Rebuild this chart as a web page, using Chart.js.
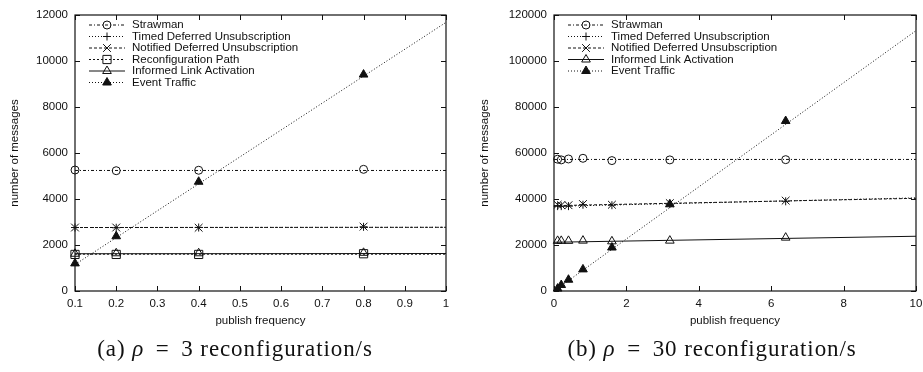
<!DOCTYPE html>
<html>
<head>
<meta charset="utf-8">
<script src="https://cdn.jsdelivr.net/npm/chart.js@4.4.0/dist/chart.umd.min.js"></script>
<style>
  body { margin: 0; background: #fff; width: 923px; height: 372px; overflow: hidden; position: relative; }
  .plot { position: absolute; top: 0; width: 461px; height: 340px; }
  #wrapA { left: 0; }
  #wrapB { left: 462px; }
  .caption { position: absolute; top: 336px; font-family: "Liberation Serif", "DejaVu Serif", serif; font-size: 23px; letter-spacing: 0.9px; white-space: nowrap; transform: translateX(-50%); color: #111; }
  .caption i { font-style: italic; }
  .caption .eq { margin: 0 5px; }
</style>
</head>
<body>
<div class="plot" id="wrapA"><canvas id="chartA" width="461" height="340"></canvas></div>
<div class="plot" id="wrapB"><canvas id="chartB" width="461" height="340"></canvas></div>
<div class="caption" style="left:235px">(a) <i>ρ</i> <span class="eq">=</span> 3 reconfiguration/s</div>
<div class="caption" style="left:712px">(b) <i>ρ</i> <span class="eq">=</span> 30 reconfiguration/s</div>

<script>
// ---- (a) rho = 3 reconfiguration/s ----
const freqA = [0.1, 0.2, 0.4, 0.8];
const strawmanA = [5260, 5230, 5250, 5290];
const timedA = [2760, 2750, 2760, 2790];
const notifiedA = [2760, 2760, 2750, 2800];
const reconfA = [1590, 1590, 1590, 1620];
const informedA = [1620, 1640, 1640, 1660];
const eventA = [1200, 2380, 4750, 9410];

// fitted lines, value at start and end of x range
const fitRangeA = [0.1, 1];
const strawmanFitA = [5240, 5240];
const timedFitA = [2760, 2770];
const notifiedFitA = [2760, 2770];
const reconfFitA = [1600, 1600];
const informedFitA = [1620, 1630];
const eventFitA = [1150, 11680];

const xTicksA = [0.1, 0.2, 0.3, 0.4, 0.5, 0.6, 0.7, 0.8, 0.9, 1];
const yTicksA = [0, 2000, 4000, 6000, 8000, 10000, 12000];

// ---- (b) rho = 30 reconfiguration/s ----
const freqB = [0.1, 0.2, 0.4, 0.8, 1.6, 3.2, 6.4];
const strawmanB = [57300, 57000, 57400, 57700, 56700, 57000, 57100];
const timedB = [36900, 36900, 36900, 37500, 37300, 37800, 39000];
const notifiedB = [37500, 37300, 37300, 37800, 37500, 38200, 39300];
const informedB = [21800, 21800, 21800, 21900, 21600, 21900, 23200];
const eventB = [1050, 2600, 4900, 9400, 18900, 37700, 73900];

const fitRangeB = [0, 10];
const strawmanFitB = [57200, 57200];
const timedFitB = [36800, 40500];
const notifiedFitB = [37100, 40300];
const informedFitB = [21200, 23800];
const eventFitB = [0, 113200];

const xTicksB = [0, 2, 4, 6, 8, 10];
const yTicksB = [0, 20000, 40000, 60000, 80000, 100000, 120000];

// ---- styles (gnuplot mono look) ----
const styles = {
    'Strawman': { point: 'circle', radius: 4, filled: false, dash: [3, 2, 1, 2] },
    'Timed Deferred Unsubscription': { point: 'cross', radius: 4, filled: false, dash: [1, 2] },
    'Notified Deferred Unsubscription': { point: 'crossRot', radius: 5.5, filled: false, dash: [3, 2] },
    'Reconfiguration Path': { point: 'rect', radius: 5.8, filled: false, dash: [2, 2] },
    'Informed Link Activation': { point: 'triangle', radius: 5, filled: false, dash: [] },
    'Event Traffic': { point: 'triangle', radius: 5, filled: true, dash: [1, 2] }
};

const FONT = '"Liberation Sans", Arial, sans-serif';
const INK = '#111';

function buildDatasets(xs, range, series) {
    const out = [];
    series.forEach(s => {
        const st = styles[s.label];
        out.push({
            label: s.label,
            data: xs.map((x, i) => ({ x: x, y: s.values[i] })),
            showLine: false,
            pointStyle: st.point,
            pointRadius: st.radius,
            pointBorderWidth: 1,
            pointBorderColor: INK,
            pointBackgroundColor: st.filled ? INK : 'rgba(0,0,0,0)',
            clip: false
        });
        out.push({
            label: s.label + ' fit',
            data: range.map((x, i) => ({ x: x, y: s.fit[i] })),
            showLine: true,
            borderColor: INK,
            borderWidth: 1,
            borderDash: st.dash,
            pointRadius: 0,
            fill: false
        });
    });
    return out;
}

// frame with inward ticks on all four sides, plus the gnuplot style key
const gnuplotFrame = {
    id: 'gpFrame',
    beforeDatasetsDraw(chart) {
        const { ctx, chartArea: a, scales } = chart;
        ctx.save();
        ctx.strokeStyle = INK;
        ctx.lineWidth = 1.2;
        ctx.strokeRect(a.left, a.top, a.right - a.left, a.bottom - a.top);
        ctx.lineWidth = 1;
        ctx.beginPath();
        scales.x.ticks.forEach(t => {
            const px = Math.round(scales.x.getPixelForValue(t.value)) + 0.5;
            ctx.moveTo(px, a.bottom); ctx.lineTo(px, a.bottom - 5);
            ctx.moveTo(px, a.top); ctx.lineTo(px, a.top + 5);
        });
        scales.y.ticks.forEach(t => {
            const py = Math.round(scales.y.getPixelForValue(t.value)) + 0.5;
            ctx.moveTo(a.left, py); ctx.lineTo(a.left + 5, py);
            ctx.moveTo(a.right, py); ctx.lineTo(a.right - 5, py);
        });
        ctx.stroke();
        ctx.restore();
    },
    afterDraw(chart, args, opts) {
        const { ctx, chartArea: a } = chart;
        const labels = opts.labels || [];
        ctx.save();
        ctx.font = '11.5px ' + FONT;
        ctx.textBaseline = 'middle';
        ctx.fillStyle = INK;
        labels.forEach((label, i) => {
            const st = styles[label];
            const y = a.top + 10 + i * 11.5;
            const x0 = a.left + 14;
            const x1 = a.left + 50;
            ctx.strokeStyle = INK;
            ctx.lineWidth = 1;
            ctx.setLineDash(st.dash);
            ctx.beginPath();
            ctx.moveTo(x0, y); ctx.lineTo(x1, y);
            ctx.stroke();
            ctx.setLineDash([]);
            ctx.fillStyle = st.filled ? INK : 'rgba(0,0,0,0)';
            Chart.helpers.drawPoint(ctx, { pointStyle: st.point, radius: st.radius, rotation: 0, borderWidth: 1 }, (x0 + x1) / 2, y);
            ctx.fillStyle = INK;
            ctx.textAlign = 'left';
            ctx.fillText(label, a.left + 57, y);
        });
        ctx.restore();
    }
};

function makeChart(id, cfg) {
    return new Chart(document.getElementById(id), {
        type: 'scatter',
        data: { datasets: cfg.datasets },
        options: {
            responsive: false,
            animation: false,
            layout: { autoPadding: false, padding: { top: 15, right: cfg.padRight, left: 0, bottom: 0 } },
            plugins: {
                legend: { display: false },
                tooltip: { enabled: false },
                gpFrame: { labels: cfg.legend }
            },
            scales: {
                x: {
                    type: 'linear',
                    min: cfg.xTicks[0],
                    max: cfg.xTicks[cfg.xTicks.length - 1],
                    afterBuildTicks: s => { s.ticks = cfg.xTicks.map(v => ({ value: v })); },
                    afterFit: s => { s.height = 49; s.paddingLeft = 0; s.paddingRight = 0; },
                    grid: { display: false, drawTicks: false },
                    border: { display: false },
                    ticks: { color: INK, font: { family: FONT, size: 11.5 }, padding: 6, maxRotation: 0, autoSkip: false,
                             callback: v => String(v) },
                    title: { display: true, text: 'publish frequency', color: INK, font: { family: FONT, size: 11.5 }, padding: { top: 0, bottom: 12 } }
                },
                y: {
                    type: 'linear',
                    min: cfg.yTicks[0],
                    max: cfg.yTicks[cfg.yTicks.length - 1],
                    afterBuildTicks: s => { s.ticks = cfg.yTicks.map(v => ({ value: v })); },
                    afterFit: s => { s.width = cfg.yWidth; s.paddingTop = 0; s.paddingBottom = 0; },
                    grid: { display: false, drawTicks: false },
                    border: { display: false },
                    ticks: { color: INK, font: { family: FONT, size: 11.5 }, padding: 7, callback: v => String(v) },
                    title: { display: true, text: 'number of messages', color: INK, font: { family: FONT, size: 11.5 }, padding: { top: cfg.yTitlePad, bottom: 0 } }
                }
            }
        },
        plugins: [gnuplotFrame]
    });
}

const legendA = ['Strawman', 'Timed Deferred Unsubscription', 'Notified Deferred Unsubscription',
                 'Reconfiguration Path', 'Informed Link Activation', 'Event Traffic'];
const legendB = ['Strawman', 'Timed Deferred Unsubscription', 'Notified Deferred Unsubscription',
                 'Informed Link Activation', 'Event Traffic'];

makeChart('chartA', {
    datasets: buildDatasets(freqA, fitRangeA, [
        { label: 'Strawman', values: strawmanA, fit: strawmanFitA },
        { label: 'Timed Deferred Unsubscription', values: timedA, fit: timedFitA },
        { label: 'Notified Deferred Unsubscription', values: notifiedA, fit: notifiedFitA },
        { label: 'Reconfiguration Path', values: reconfA, fit: reconfFitA },
        { label: 'Informed Link Activation', values: informedA, fit: informedFitA },
        { label: 'Event Traffic', values: eventA, fit: eventFitA }
    ]),
    xTicks: xTicksA, yTicks: yTicksA, legend: legendA,
    yWidth: 75, padRight: 15, yTitlePad: 8
});

makeChart('chartB', {
    datasets: buildDatasets(freqB, fitRangeB, [
        { label: 'Strawman', values: strawmanB, fit: strawmanFitB },
        { label: 'Timed Deferred Unsubscription', values: timedB, fit: timedFitB },
        { label: 'Notified Deferred Unsubscription', values: notifiedB, fit: notifiedFitB },
        { label: 'Informed Link Activation', values: informedB, fit: informedFitB },
        { label: 'Event Traffic', values: eventB, fit: eventFitB }
    ]),
    xTicks: xTicksB, yTicks: yTicksB, legend: legendB,
    yWidth: 92, padRight: 7, yTitlePad: 16
});
</script>
</body>
</html>
